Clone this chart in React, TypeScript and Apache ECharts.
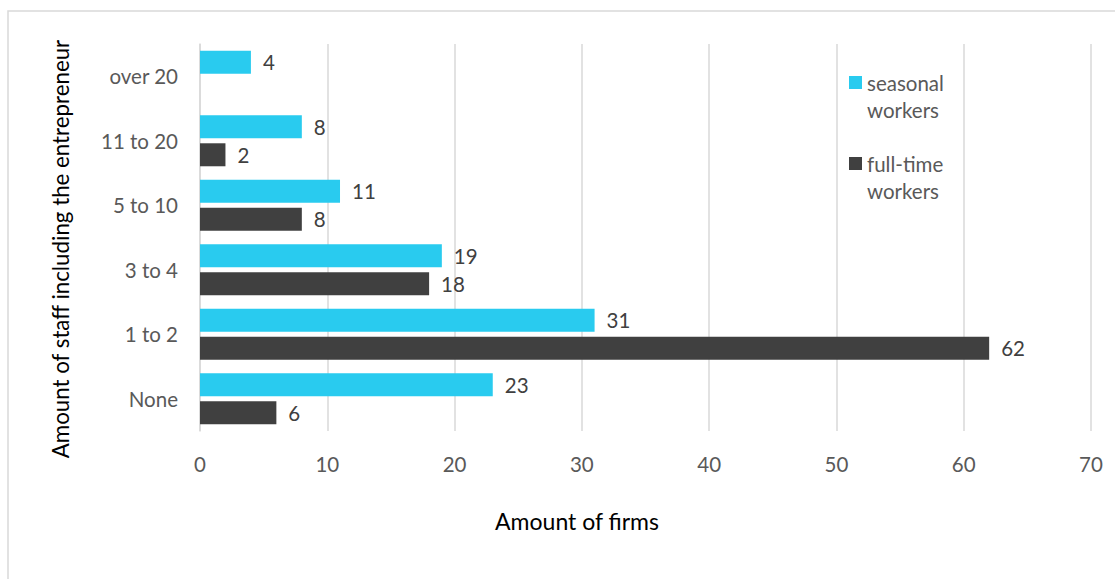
import React, { useEffect, useRef } from "react";
import * as echarts from "echarts";

const categories = ["None", "1 to 2", "3 to 4", "5 to 10", "11 to 20", "over 20"];
const seasonal = [23, 31, 19, 11, 8, 4];
const fullTime: (number | null)[] = [6, 62, 18, 8, 2, null];
const xTicks = { min: 0, max: 70, interval: 10 };

const FONT = "Lato";
const FS = 20.5;

export default function App() {
  const ref = useRef<HTMLDivElement>(null);
  useEffect(() => {
    if (!ref.current) return;
    const chart = echarts.init(ref.current, undefined, { renderer: "svg" });
    const labelStyle = {
      show: true,
      position: "right" as const,
      distance: 12,
      color: "#404040",
      fontSize: FS,
      fontFamily: FONT,
    };
    chart.setOption({
      animation: false,
      backgroundColor: "#ffffff",
      textStyle: { fontFamily: FONT },
      grid: { left: 200, right: 24, top: 44, bottom: 148, containLabel: false },
      legend: {
        orient: "vertical",
        left: 849,
        top: 42,
        padding: 0,
        itemWidth: 13,
        itemHeight: 13,
        itemGap: 0,
        icon: "rect",
        data: ["seasonal workers", "full-time workers"],
        formatter: (n: string) => "\n" + n.replace(" ", "\n"),
        textStyle: {
          color: "#595959",
          fontSize: FS,
          fontFamily: FONT,
          lineHeight: 27,
        },
      },
      xAxis: {
        type: "value",
        min: xTicks.min,
        max: xTicks.max,
        interval: xTicks.interval,
        axisLine: { show: false },
        axisTick: { show: false },
        splitLine: { lineStyle: { color: "#d9d9d9", width: 1.5 } },
        axisLabel: { color: "#595959", fontSize: FS, fontFamily: FONT, margin: 22 },
      },
      yAxis: {
        type: "category",
        data: categories,
        axisLine: { show: true, lineStyle: { color: "#d9d9d9", width: 1.5 } },
        axisTick: { show: false },
        axisLabel: { color: "#595959", fontSize: FS, fontFamily: FONT, margin: 22 },
      },
      series: [
        {
          name: "seasonal workers",
          type: "bar",
          data: seasonal,
          barWidth: 23,
          barGap: "22%",
          itemStyle: { color: "#29cbef" },
          label: labelStyle,
        },
        {
          name: "full-time workers",
          type: "bar",
          data: fullTime,
          barWidth: 23,
          barGap: "22%",
          itemStyle: { color: "#404040" },
          label: labelStyle,
        },
      ],
      graphic: [
        {
          type: "rect",
          shape: { x: 8, y: 11, width: 1120, height: 580 },
          style: { fill: "none", stroke: "#d9d9d9", lineWidth: 1.5 },
          silent: true,
        },
        {
          type: "text",
          x: 577,
          y: 521,
          style: {
            text: "Amount of firms",
            fill: "#000000",
            fontSize: 23,
            fontFamily: FONT,
            align: "center",
            verticalAlign: "middle",
          },
        },
        {
          type: "text",
          x: 60,
          y: 249,
          rotation: Math.PI / 2,
          style: {
            text: "Amount of staff including the entrepreneur",
            fill: "#000000",
            fontSize: 22.3,
            fontFamily: FONT,
            align: "center",
            verticalAlign: "middle",
          },
        },
      ],
    });
    return () => chart.dispose();
  }, []);
  return (
    <div
      ref={ref}
      style={{ position: "absolute", left: 0, top: 0, width: 1115, height: 579 }}
    />
  );
}
